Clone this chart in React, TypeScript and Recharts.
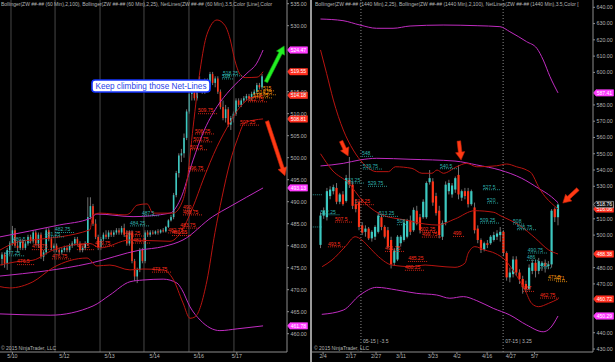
import React from "react";
import { ComposedChart, XAxis, YAxis, Bar, Line, Scatter, ReferenceLine, ReferenceDot } from "recharts";

const FONT = '"Liberation Sans", Arial, sans-serif';
const UP = "#3cc8c0";
const DOWN = "#ff3418";
const WICK = "#a0a0a0";
const MAG = "#c02cc0";
const RED = "#b81410";
const AXIS = "#8c8c8c";
const TXT = "#b4b4b4";
const NOTE: Record<string, string> = { c: "#2fb4b0", r: "#ff2e1c", o: "#ff9c10" };
const TAG: Record<string, { bg: string; line: string }> = {
  m: { bg: "#ff3cff", line: "#ff3cff" },
  r: { bg: "#ff3020", line: "#ff3020" },
  k: { bg: "#101010", line: "#d0d0d0" },
};

// ---- 60 min panel: [open, high, low, close]
const hourlyBars = [
  [477, 478.5, 475.5, 478], [478, 478.5, 475, 476], [476, 479.5, 474.5, 479], [479, 481, 478, 480.5],
  [480.5, 484.5, 480, 483.5], [483.5, 484, 479.5, 480], [480, 481, 478.5, 479.5], [479.5, 481.5, 479, 481],
  [481, 481.5, 479, 479.5], [479.5, 481, 479, 480.5], [480.5, 482.5, 480, 482], [482, 482.5, 480.5, 481],
  [481, 483.5, 480.5, 483], [483, 483.5, 480, 480.5], [480.5, 483, 479.5, 482.5], [482.5, 483, 477, 477.5],
  [477.5, 479, 476.5, 478.5], [478.5, 484, 478, 483.5], [483.5, 484, 481, 481.5], [481.5, 482, 479, 479.5],
  [479.5, 480.5, 478.5, 480], [480, 480.5, 478.5, 479], [479, 479.5, 478, 478.5], [478.5, 479.5, 478, 479],
  [479, 480, 478.5, 479.5], [479.5, 480, 478.5, 479], [479, 480.5, 478.5, 480], [480, 481, 479.5, 480.5],
  [480.5, 482, 480, 481.5], [481.5, 482, 480, 480.5], [480.5, 481, 478.5, 479], [479, 480, 478.5, 479.5],
  [479.5, 481, 479, 480.5], [480.5, 491, 480, 486.5], [486.5, 491, 486, 489], [489, 489.5, 484.5, 485],
  [485, 486, 481.5, 482], [482, 482.5, 479, 479.5], [479.5, 482, 479, 481.5], [481.5, 483, 481, 482.5],
  [482.5, 483.5, 481.5, 482], [482, 483.5, 481.5, 483], [483, 483.5, 482, 482.5], [482.5, 483.5, 482, 483],
  [483, 484, 482.5, 483.5], [483.5, 484, 482.5, 483], [483, 484.5, 482.5, 484], [484, 485, 482, 482.5],
  [482.5, 483.5, 480, 480.5], [480.5, 483.5, 480, 483], [483, 483.5, 476, 476.5], [476.5, 477, 472, 473],
  [473, 475, 471.5, 474.5], [474.5, 479.5, 474, 479], [479, 479.5, 476, 476.5], [476.5, 483.5, 476, 483],
  [483, 483.5, 482, 482.5], [482.5, 483.5, 482, 483], [483, 483.5, 482.5, 482.75], [482.75, 483.5, 482.5, 483.25],
  [483.25, 483.75, 482.5, 483], [483, 483.75, 482.75, 483.5], [483.5, 484, 483, 483.25], [483.25, 484.5, 483, 484.25],
  [484.25, 486, 484, 485.75], [485.75, 487, 485.5, 486.5], [486.5, 492, 486, 491.5], [491.5, 497, 491, 496.5],
  [496.5, 501, 495.5, 500.5], [500.5, 502, 499, 501], [501, 505.5, 500, 504.5], [504.5, 511, 504, 510.5],
  [510.5, 516, 510, 514.5], [514.5, 516.5, 513, 515.5], [515.5, 516, 513, 513.5], [513.5, 517, 513, 516.5],
  [516.5, 518.5, 515.5, 517], [517, 517.5, 514.5, 515], [515, 518, 514.5, 517.5], [517.5, 518, 515.5, 516],
  [516, 519.5, 515.5, 519], [519, 519.5, 516.5, 517], [517, 518.5, 516, 518], [518, 518.5, 514.5, 515],
  [515, 515.5, 511, 511.5], [511.5, 513, 508.5, 509], [509, 512, 508, 511], [511, 511.5, 507, 507.5],
  [507.5, 509.5, 506.3, 509], [509, 510.5, 508, 510], [510, 513.5, 509.5, 513], [513, 513.5, 511.5, 512],
  [512, 513.5, 511.5, 513], [513, 514, 512.5, 513.5], [513.5, 514.5, 513, 514], [514, 514.5, 513, 513.5],
  [513.5, 515, 513, 514.5], [514.5, 515.5, 514, 515], [515, 517, 514.5, 516.5], [516.5, 517, 515.5, 516],
  [516, 519, 515.5, 518.5],
];

// Bollinger(2,100) and Bollinger(2,25) on 60 min: [bar, value]
const hUpper100 = [[-0.8, 482], [22, 484.7], [33.8, 486.2], [36.5, 487.2], [50.4, 486.6], [64.6, 487.4], [68.5, 490.4], [73.5, 499.5], [77.3, 505.6], [82.7, 511.6], [87.7, 515.4], [94.2, 519.2], [98, 521.5], [100.4, 524.47]];
const hMid100 = [[-0.8, 473.1], [33.8, 476], [53, 479], [62, 479.8], [69.6, 481.3], [81, 486.6], [87.7, 488.9], [100.4, 493.13]];
const hLower100 = [[-0.8, 464.5], [18.5, 464.2], [35, 466.3], [41.5, 468.8], [49.2, 471.8], [54.2, 472.2], [62, 472.4], [67.3, 471.5], [69.2, 470], [72.3, 466.1], [76.2, 463.1], [83.8, 460.7], [90.4, 461.1], [100.4, 461.78]];
const hUpper25 = [[-0.8, 479], [6.9, 481], [11.9, 481.3], [33.8, 483.6], [35, 487], [37.7, 487.4], [47.3, 487], [49.2, 487.4], [51.9, 489.2], [55.8, 489.5], [58.1, 487.4], [65.8, 487.4], [69.6, 490.4], [71.2, 494.9], [73.5, 507], [76.2, 520], [78.8, 528], [82.7, 531.3], [85.8, 530], [87.7, 527], [89.6, 522], [91.5, 519], [93.5, 518.2], [98.1, 518.3], [100.4, 519.55]];
const hMid25 = [[-0.8, 475.6], [5, 476.3], [11.9, 476.7], [19.6, 479], [33.8, 480.5], [37.7, 479.5], [49.2, 481.3], [64.6, 481], [68.5, 482.8], [73.5, 488.9], [77.3, 494.9], [82.7, 502.5], [87.7, 508], [91.5, 511.5], [95.4, 513.5], [100.4, 514.18]];
const hLower25 = [[-0.8, 470.7], [3, 470.4], [11.9, 471.8], [19.6, 475], [32.7, 477.2], [36.5, 475.4], [41.5, 475.6], [49.2, 474.5], [54.2, 474.7], [61.9, 474.5], [65.8, 472.4], [69.6, 467], [72.3, 463.5], [74.2, 463.8], [78.8, 472], [81.9, 483], [84.6, 491], [87.7, 499], [90.4, 504], [93.5, 508], [100.4, 508.81]];

// NetLines levels on 60 min: [bar, price, text, colour]
const hourlyNotes = [
  [4.2, 480.8, "480.5", "c"], [1.2, 477.7, "477.25", "c"], [5.8, 475.7, "476.5", "r"], [11.5, 479.1, "479.75", "r"],
  [16.5, 482.0, "481.25", "c"], [20.4, 483.0, "482.75", "c"], [19.2, 477.0, "476.75", "r"], [28.8, 479.1, "479.5", "r"],
  [35.8, 479.9, "479.75", "r"], [49.2, 484.5, "484.25", "c"], [53.8, 486.8, "487.5", "c"], [47.3, 482.2, "483.25", "r"],
  [50.4, 480.6, "481.5", "r"], [57.7, 474.0, "473.75", "r"], [63.8, 482.9, "482.75", "r"], [65.4, 482.3, "481.25", "r"],
  [68.5, 484.0, "483.75", "r"], [69.6, 488.1, "490", "r"], [69.6, 487.0, "488.75", "r"], [71.5, 497.0, "496.75", "r"],
  [72.3, 501.8, "501.5", "r"], [73.5, 503.6, "503.75", "r"], [74.2, 505.4, "506.25", "r"], [75.4, 510.0, "509.75", "r"],
  [91.5, 507.4, "507.25", "r"], [85.0, 518.6, "518.25", "c"], [84.6, 517.9, "518", "c"], [100.4, 515.2, "515", "o"],
  [96.5, 513.6, "513.75", "o"], [98, 514.3, "514.25", "o"], [94.6, 512.7, "512.75", "r"],
];
const hourlyTags = [[524.47, "m"], [519.55, "r"], [514.18, "r"], [508.81, "r"], [493.13, "m"], [461.78, "m"]];
const hourlyTicks = [4, 24, 41.4, 58.7, 75.7, 90.3];
const hourlyTickLabels = ["5/10", "5/12", "5/13", "5/14", "5/16", "5/17"];
const hourlySessions = [3.46, 20.4, 37.7, 54.6, 71.9, 89.2];
// price labels left visible beside the tags
const hourlyPrices = [460, 465, 470, 475, 480, 485, 490, 495, 500, 505, 510, 515, 530, 535];
const hourlyArrows = [
  [101.5, 517.2, 108.5, 525.4, "g"],
  [101.9, 508.3, 108.8, 495.9, "r"],
];
const hourlyCallout = [57.3, 516.3, "Keep climbing those Net-Lines"];

// ---- daily panel: [open, high, low, close]
const dailyBars = [
  [494, 514, 492, 512], [512, 517, 510, 515], [511, 529, 509, 527], [524, 530, 522, 528], [527, 531, 525, 529.5],
  [529, 532, 519, 520.5], [520.5, 526, 519, 525], [525, 527, 518, 519], [521, 537, 520, 535], [534, 548, 529, 531],
  [531, 533, 516, 518], [519, 522, 514, 516], [520, 521, 503, 505], [506, 508, 500, 501.5], [502, 506, 499, 504],
  [504, 505, 497, 498], [498, 503, 496, 502], [499, 506, 497, 505], [502, 514, 501, 512], [511, 513, 503, 505],
  [505, 506, 498, 499], [503, 505, 492, 493], [497, 499, 479.5, 482], [483, 492, 481, 490.5], [485, 500, 484, 499],
  [495, 500, 493, 499], [497, 509, 496, 507.5], [499, 510, 498, 509], [509, 512, 500, 502], [503, 517, 502, 515.5],
  [515, 518, 506, 507], [511, 513, 501, 503], [511, 522, 510, 520.5], [511, 533, 510, 532], [532.5, 540, 531, 535],
  [533, 535, 518, 520], [524, 526, 512, 513.5], [515, 518, 498, 500], [499, 509, 497, 507.5], [508, 533, 506, 531],
  [527, 534, 525, 532], [525, 532, 523, 530.5], [528, 536, 526, 535], [537, 543, 522, 525], [523, 528, 521, 527],
  [527, 529, 522, 524], [527, 529, 517, 519], [519, 528, 518, 527], [517, 520, 501, 503], [504, 506, 495, 497],
  [497, 498, 489, 491], [491, 496, 490, 495], [495, 497, 492, 494], [495, 500, 494, 499], [497, 502, 496, 500],
  [499, 503, 497, 501], [500, 505, 496, 502], [502, 503, 487, 489], [489, 490, 472, 474], [474, 480, 471, 477],
  [476, 487, 474, 485], [485, 487, 475, 477], [477, 479, 470, 473], [473, 475, 464, 468], [470, 472, 465, 467],
  [467, 482, 466, 480], [478, 485, 476, 483], [483, 485, 474, 478], [478, 486, 476, 484], [481, 484, 478, 483],
  [483, 485, 477, 481], [481, 484, 479, 482], [482, 516, 480, 515], [516, 517, 508, 511], [511, 519.5, 506, 518.75],
];

const dUpper100 = [[0, 632.8], [7, 631.8], [12.3, 629.1], [17.5, 627.1], [22.6, 627.1], [27.9, 628.5], [38.2, 629.1], [48.8, 628.7], [55.9, 628.1], [59, 625], [64.2, 618.9], [67.4, 614.8], [69.4, 607.6], [71.5, 597.4], [74, 587.41]];
const dMid100 = [[0, 542.5], [7.1, 544.1], [12.3, 546.2], [17.5, 547.2], [27.9, 546.6], [41.9, 545.5], [48.7, 543.1], [55.9, 540], [62.7, 534.9], [67.9, 528.8], [72, 523.5], [74, 519.9]];
const dLower100 = [[0.4, 451.3], [7.1, 453.9], [12.3, 463.2], [17.5, 467.9], [23.7, 466.3], [30, 464.2], [36.2, 463.2], [40.3, 461.2], [44.5, 462.2], [48.7, 459.7], [53.8, 455], [59, 450.9], [64.2, 444.8], [69.4, 440.6], [71.5, 442.7], [74, 450.29]];
const dUpper25 = [[0, 613.8], [1.9, 599.4], [4, 583], [7.1, 564.6], [10.2, 552.3], [13.3, 544.1], [17.5, 539], [21.2, 539], [23.3, 542], [28.5, 541], [31.6, 538], [34.7, 538], [36.3, 540], [38.3, 538], [42.4, 542], [45.5, 544.1], [48.7, 542], [54.9, 542.6], [58, 543.7], [61.1, 542], [64.2, 540], [65.8, 537.9], [67.9, 529.8], [70, 523.6], [72, 519.5], [74, 516.06]];
const dMid25 = [[0, 550], [3.6, 540], [8.8, 531.8], [12.9, 521.6], [19.2, 512.4], [26.4, 509.3], [32.6, 506.8], [36.3, 506.2], [42, 510], [48, 515], [54, 514], [56, 512], [62, 506], [67, 498], [71, 491], [74, 488.38]];
const dLower25 = [[0.5, 480.6], [3.6, 484.7], [7.7, 492.9], [10.8, 499], [12.9, 497], [15, 492.9], [18.1, 486.7], [22.3, 481.6], [28.5, 480.6], [32.6, 481.6], [36.3, 481], [41.9, 480.2], [45, 482.7], [46, 488.8], [48.1, 492.9], [51.2, 490.8], [54.4, 488.8], [57.5, 484.7], [60.6, 476.5], [63.7, 466.3], [65.8, 458], [67.9, 456], [71, 458], [74, 460.72]];

const dailyNotes = [
  [12.9, 548.4, "548", "c"], [13.2, 540.6, "539.75", "c"], [37.2, 540.8, "540.5", "c"], [7.6, 532.0, "533.25", "c"],
  [14.8, 530.0, "529.75", "c"], [50.6, 527.9, "527.5", "c"], [51.9, 519.7, "520", "c"], [10.7, 518.7, "518.25", "r"],
  [0, 512.5, "512.25", "c"], [4.5, 508.0, "507.5", "r"], [2.3, 492.8, "493.5", "r"], [18.2, 511.5, "513.25", "c"],
  [23.8, 506.4, "508", "c"], [31, 501.9, "502.25", "r"], [31.6, 498.8, "499.75", "r"], [41.3, 499.2, "499", "r"],
  [20.1, 490.0, "491.75", "r"], [27.3, 483.8, "485.25", "r"], [26.3, 478.4, "480.25", "r"], [49.7, 507.4, "509.25", "c"],
  [60, 506.8, "508", "c"], [61.2, 503.3, "505.75", "c"], [64.6, 489.0, "490.75", "c"], [64.3, 484.5, "486", "c"],
  [68.4, 479.8, "481", "c"], [70.9, 472.4, "473.5", "o"], [73.4, 471.4, "471", "o"], [63.1, 465.4, "467", "r"],
  [68.4, 461.3, "462.75", "r"], [-2.4, 524.8, "", "c"], [-2.4, 505.0, "", "c"],
];
const dailyTags = [[587.41, "m"], [516.06, "r"], [518.76, "k"], [488.38, "r"], [460.72, "r"], [450.29, "m"]];
const dailyTicks = [0.8, 9.5, 17.3, 25.1, 35, 42.5, 51.9, 59.3, 66.7];
const dailyTickLabels = ["2/4", "2/17", "2/27", "3/11", "3/23", "4/2", "4/16", "4/27", "5/7"];
// price labels left visible beside the tags
const dailyPrices = [430, 440, 470, 480, 500, 510, 530, 540, 550, 560, 570, 580, 600, 610, 620, 630, 640];
const rollovers = [[12.6, "05-15 | -3.5"], [56.9, "07-15 | 3.25"]];
const dailyArrows = [
  [6.4, 557.8, 8.6, 548.6, "r"],
  [43.1, 557.8, 43.8, 546.1, "r"],
  [80.2, 528.3, 75.5, 519.7, "r"],
];

const toCandles = (rows: number[][]) => rows.map(([o, h, l, c], i) => ({ i, o, h, l, c }));
const toPts = (rows: number[][]) => rows.map(([i, v]) => ({ i, v }));
const toNotes = (rows: any[]) => rows.map(([i, v, t, k]) => ({ i, v, t, k }));

function Candle(props: any) {
  const { x, y, width, height, payload, bw } = props;
  if (!payload) return null;
  const { o, h, l, c } = payload;
  const top = Math.min(y, y + height);
  const span = Math.abs(height);
  const k = span / (h - l);
  const py = (v: number) => top + (h - v) * k;
  const cx = x + width / 2;
  const y1 = py(Math.max(o, c));
  const y2 = py(Math.min(o, c));
  return (
    <g>
      <line x1={cx} x2={cx} y1={top} y2={top + span} stroke={WICK} strokeWidth={0.7} />
      <rect x={cx - bw / 2} y={y1} width={bw} height={Math.max(0.7, y2 - y1)} fill={c >= o ? UP : DOWN} />
    </g>
  );
}

function Note(props: any) {
  const { cx, cy, payload } = props;
  const col = NOTE[payload.k];
  const w = payload.t ? payload.t.length * 2.6 + 4 : 10;
  return (
    <g>
      <text x={cx} y={cy - 1.2} fontSize={5} fill={col} fontFamily={FONT}>
        {payload.t}
      </text>
      <line x1={cx} x2={cx + w} y1={cy} y2={cy} stroke={col} strokeWidth={0.8} strokeDasharray="1 1" />
    </g>
  );
}

const tagLabel = (value: number, kind: string) => (p: any) => {
  const vb = p.viewBox || {};
  const x = vb.x + vb.width + 0.5;
  const y = vb.y;
  const st = TAG[kind];
  return (
    <g>
      <path
        d={`M${x} ${y} L${x + 2.5} ${y - 3.2} H${x + 20} V${y + 3.2} H${x + 2.5} Z`}
        fill={st.bg}
        stroke={st.line}
        strokeWidth={0.6}
      />
      <text x={x + 3.2} y={y + 1.8} fontSize={5} fill="#fff" fontFamily={FONT}>
        {value.toFixed(2)}
      </text>
    </g>
  );
};

const arrowShape = (kind: string) => (p: any) => {
  const { x1, y1, x2, y2 } = p;
  const dx = x2 - x1;
  const dy = y2 - y1;
  const len = Math.hypot(dx, dy) || 1;
  const ux = dx / len;
  const uy = dy / len;
  const nx = -uy;
  const ny = ux;
  const hl = 8;
  const hw = 4.6;
  const sw = 1.8;
  const bx = x2 - ux * hl;
  const by = y2 - uy * hl;
  const pts = [
    [x1 + nx * sw, y1 + ny * sw],
    [bx + nx * sw, by + ny * sw],
    [bx + nx * hw, by + ny * hw],
    [x2, y2],
    [bx - nx * hw, by - ny * hw],
    [bx - nx * sw, by - ny * sw],
    [x1 - nx * sw, y1 - ny * sw],
  ];
  const fill = kind === "g" ? "#22f022" : "#ff3a14";
  const edge = kind === "g" ? "#10a010" : "#c02008";
  return <path d={"M" + pts.map((q) => q.join(" ")).join(" L") + " Z"} fill={fill} stroke={edge} strokeWidth={0.6} />;
};

function Callout(props: any) {
  const { cx, cy, text } = props;
  return (
    <g>
      <rect x={cx - 59} y={cy - 6} width={118} height={12} rx={3} fill="#ffffff" stroke="#1434ff" strokeWidth={1.6} />
      <text x={cx} y={cy + 3} textAnchor="middle" fontSize={8.2} fill="#2a44e8" fontFamily={FONT}>
        {text}
      </text>
    </g>
  );
}

const rolloverLabel = (text: string) => (p: any) => {
  const vb = p.viewBox || {};
  return (
    <text x={vb.x + 2} y={vb.y + vb.height - 9.5} fontSize={5} fill={TXT} fontFamily={FONT}>
      {text}
    </text>
  );
};

const tick = { fontSize: 5.3, fill: TXT, fontFamily: FONT };

function Panel(props: any) {
  const { width, bars, xDomain, yDomain, prices, xTicks, xLabels, bw, lines, notes, tags, arrows, children } = props;
  return (
    <ComposedChart width={width} height={362} data={toCandles(bars)} margin={{ top: 0, right: 0, bottom: 0, left: 0 }}>
      <XAxis
        dataKey="i"
        type="number"
        domain={xDomain}
        allowDataOverflow
        ticks={xTicks}
        interval={0}
        tickFormatter={(v: number) => xLabels[xTicks.indexOf(v)] || ""}
        height={10}
        tick={tick}
        tickSize={2}
        tickMargin={0.5}
        stroke={AXIS}
      />
      <YAxis
        orientation="right"
        type="number"
        domain={yDomain}
        allowDataOverflow
        ticks={prices}
        interval={0}
        tickFormatter={(v: number) => v.toFixed(2)}
        width={width === 310 ? 23 : 22}
        tick={tick}
        tickSize={2}
        tickMargin={1.5}
        stroke={AXIS}
      />
      {children}
      <Bar
        dataKey={(d: any) => [d.l, d.h]}
        barSize={2}
        isAnimationActive={false}
        shape={(p: any) => <Candle {...p} bw={bw} />}
      />
      {lines.map(([pts, color]: any, n: number) => (
        <Line
          key={n}
          data={toPts(pts)}
          dataKey="v"
          type="monotone"
          stroke={color}
          strokeWidth={1}
          dot={false}
          activeDot={false}
          isAnimationActive={false}
        />
      ))}
      <Scatter data={toNotes(notes)} dataKey="v" isAnimationActive={false} shape={(p: any) => <Note {...p} />} />
      {arrows.map(([a, b, c, d, k]: any, n: number) => (
        <ReferenceLine
          key={"a" + n}
          segment={[{ x: a, y: b }, { x: c, y: d }]}
          ifOverflow="visible"
          shape={arrowShape(k)}
        />
      ))}
      {tags.map(([v, k]: any) => (
        <ReferenceLine key={"t" + v} y={v} stroke="none" ifOverflow="visible" label={tagLabel(v, k)} />
      ))}
    </ComposedChart>
  );
}

export default function App() {
  const titleStyle: React.CSSProperties = {
    position: "absolute",
    top: 1,
    fontSize: 5,
    color: TXT,
    fontFamily: FONT,
    whiteSpace: "nowrap",
    overflow: "hidden",
  };
  const copyStyle: React.CSSProperties = {
    position: "absolute",
    top: 345,
    fontSize: 5,
    color: TXT,
    fontFamily: FONT,
    whiteSpace: "nowrap",
  };
  return (
    <div
      style={{
        position: "absolute",
        left: 0,
        top: 0,
        width: 615,
        height: 362,
        background: "#000",
        overflow: "hidden",
        fontFamily: FONT,
      }}
    >
      <div style={{ position: "absolute", left: 0, top: 0 }}>
        <Panel
          width={310}
          bars={hourlyBars}
          xDomain={[-0.77, 109.6]}
          yDomain={[455.84, 535.84]}
          prices={hourlyPrices}
          xTicks={hourlyTicks}
          xLabels={hourlyTickLabels}
          bw={1.6}
          notes={hourlyNotes}
          tags={hourlyTags}
          arrows={hourlyArrows}
          lines={[
            [hUpper100, MAG],
            [hMid100, MAG],
            [hLower100, MAG],
            [hUpper25, RED],
            [hMid25, RED],
            [hLower25, RED],
          ]}
        >
          {hourlySessions.map((s) => (
            <ReferenceLine key={"s" + s} x={s} stroke="#474747" strokeWidth={1} />
          ))}
          <ReferenceDot
            x={hourlyCallout[0] as number}
            y={hourlyCallout[1] as number}
            r={1}
            ifOverflow="visible"
            shape={(p: any) => <Callout {...p} text={hourlyCallout[2]} />}
          />
        </Panel>
      </div>
      <div style={{ position: "absolute", left: 310, top: 0, width: 2, height: 362, background: "#9a9a9a" }} />
      <div style={{ position: "absolute", left: 312, top: 0 }}>
        <Panel
          width={303}
          bars={dailyBars}
          xDomain={[-2.65, 84.9]}
          yDomain={[428.16, 644.49]}
          prices={dailyPrices}
          xTicks={dailyTicks}
          xLabels={dailyTickLabels}
          bw={2.2}
          notes={dailyNotes}
          tags={dailyTags}
          arrows={dailyArrows}
          lines={[
            [dUpper100, MAG],
            [dMid100, MAG],
            [dLower100, MAG],
            [dUpper25, RED],
            [dMid25, RED],
            [dLower25, RED],
          ]}
        >
          {rollovers.map(([x, t]: any) => (
            <ReferenceLine
              key={"r" + x}
              x={x}
              stroke="#8a8a8a"
              strokeDasharray="1 2"
              label={rolloverLabel(t)}
            />
          ))}
        </Panel>
      </div>
      <div style={{ ...titleStyle, left: 1, width: 285 }}>
        Bollinger(ZW ##-## (60 Min),2,100), Bollinger(ZW ##-## (60 Min),2,25), NetLines(ZW ##-## (60 Min),3.5,Color [Line],Color
      </div>
      <div style={{ ...titleStyle, left: 315, width: 277 }}>
        Bollinger(ZW ##-## (1440 Min),2,25), Bollinger(ZW ##-## (1440 Min),2,100), NetLines(ZW ##-## (1440 Min),3.5,Color [
      </div>
      <div style={{ ...copyStyle, left: 1 }}>© 2015 NinjaTrader, LLC</div>
      <div style={{ ...copyStyle, left: 314 }}>© 2015 NinjaTrader, LLC</div>
    </div>
  );
}
